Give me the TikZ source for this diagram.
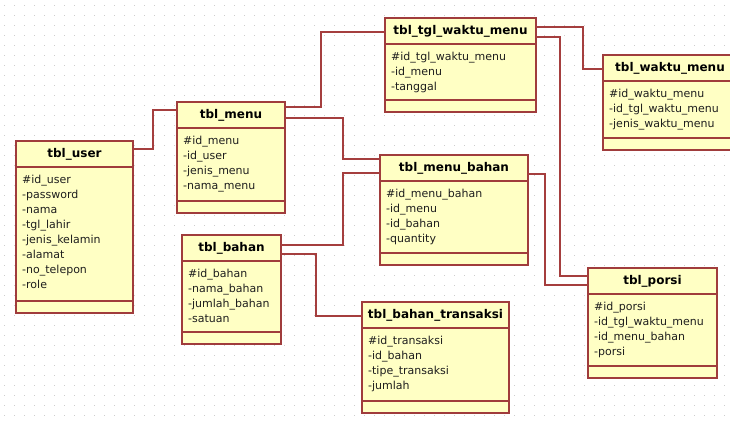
\documentclass[tikz,border=0pt]{standalone}
\usepackage{fontspec}
\setmainfont{DejaVu Sans}
\usetikzlibrary{calc}
\definecolor{boxfill}{RGB}{255,255,196}
\definecolor{boxedge}{RGB}{160,60,60}
\definecolor{connred}{RGB}{165,62,62}
\definecolor{dotgray}{RGB}{205,205,205}
\definecolor{txt}{RGB}{30,30,30}
\newcommand{\umlclass}[7]{%
  \node[classbox, minimum width={(#4-#2)*1pt}, minimum height={(#5-#3)*1pt}] (#1) at ({(#2+#4)/2},{(#3+#5)/2}) {};
  \draw[boxedgeline] ([yshift=-26pt]#1.north west) -- ([yshift=-26pt]#1.north east);
  \draw[boxedgeline] ([yshift=12pt]#1.south west) -- ([yshift=12pt]#1.south east);
  \node[titletext] (#1-title) at ([yshift=-13pt]#1.north) {#6};
  \foreach \a [count=\i] in {#7} {
    \node[attrtext] (#1-a\i) at ([xshift=6pt,yshift={-(42+15*(\i-1))*1pt}]#1.north west) {\a};
  }
}
\begin{document}
\begin{tikzpicture}[x=1pt,y=-1pt,
  classbox/.style={draw=boxedge, fill=boxfill, line width=1.2pt, inner sep=0pt, outer sep=0pt, rectangle},
  boxedgeline/.style={draw=boxedge, line width=1.2pt},
  titletext/.style={inner sep=0pt, text=black, font=\bfseries\fontsize{12}{14}\selectfont},
  attrtext/.style={inner sep=0pt, anchor=base west, text=txt, font=\fontsize{11}{13}\selectfont},
  conn/.style={draw=connred, line width=1.2pt},
  griddot/.style={draw=dotgray, line width=1pt, dash pattern=on 1pt off 9pt}]
\useasboundingbox (0,0) rectangle (730,424);
\clip (0,0) rectangle (730,424);
\fill[white] (0,0) rectangle (730,424);
\foreach \y in {5,15,...,425} \draw[griddot] (4,\y) -- (730,\y);

\umlclass{user}{16}{141}{133}{313}{tbl\_user}{\#id\_user,-password,-nama,-tgl\_lahir,-jenis\_kelamin,-alamat,-no\_telepon,-role}
\umlclass{menu}{177}{102}{285}{213}{tbl\_menu}{\#id\_menu,-id\_user,-jenis\_menu,-nama\_menu}
\umlclass{tgl}{385}{18}{536}{112}{tbl\_tgl\_waktu\_menu}{\#id\_tgl\_waktu\_menu,-id\_menu,-tanggal}
\umlclass{waktu}{603}{55}{737}{150}{tbl\_waktu\_menu}{\#id\_waktu\_menu,-id\_tgl\_waktu\_menu,-jenis\_waktu\_menu}
\umlclass{mbahan}{380}{155}{528}{265}{tbl\_menu\_bahan}{\#id\_menu\_bahan,-id\_menu,-id\_bahan,-quantity}
\umlclass{bahan}{182}{235}{281}{344}{tbl\_bahan}{\#id\_bahan,-nama\_bahan,-jumlah\_bahan,-satuan}
\umlclass{trans}{362}{302}{509}{413}{tbl\_bahan\_transaksi}{\#id\_transaksi,-id\_bahan,-tipe\_transaksi,-jumlah}
\umlclass{porsi}{588}{268}{717}{378}{tbl\_porsi}{\#id\_porsi,-id\_tgl\_waktu\_menu,-id\_menu\_bahan,-porsi}

\draw[conn] ([yshift=-8pt]user.north east) -- ++(20,0) |- ([yshift=-8pt]menu.north west);
\draw[conn] ([yshift=-5pt]menu.north east) -- ++(36,0) |- ([yshift=-14pt]tgl.north west);
\draw[conn] ([yshift=-16pt]menu.north east) -- ++(58,0) |- ([yshift=-4pt]mbahan.north west);
\draw[conn] ([yshift=-10pt]bahan.north east) -- ++(62,0) |- ([yshift=-18pt]mbahan.north west);
\draw[conn] ([yshift=-19pt]bahan.north east) -- ++(35,0) |- ([yshift=-14pt]trans.north west);
\draw[conn] ([yshift=-9pt]tgl.north east) -- ++(47,0) |- ([yshift=-14pt]waktu.north west);
\draw[conn] ([yshift=-19pt]tgl.north east) -- ++(24,0) |- ([yshift=-8pt]porsi.north west);
\draw[conn] ([yshift=-19pt]mbahan.north east) -- ++(17,0) |- ([yshift=-17pt]porsi.north west);
\end{tikzpicture}
\end{document}
